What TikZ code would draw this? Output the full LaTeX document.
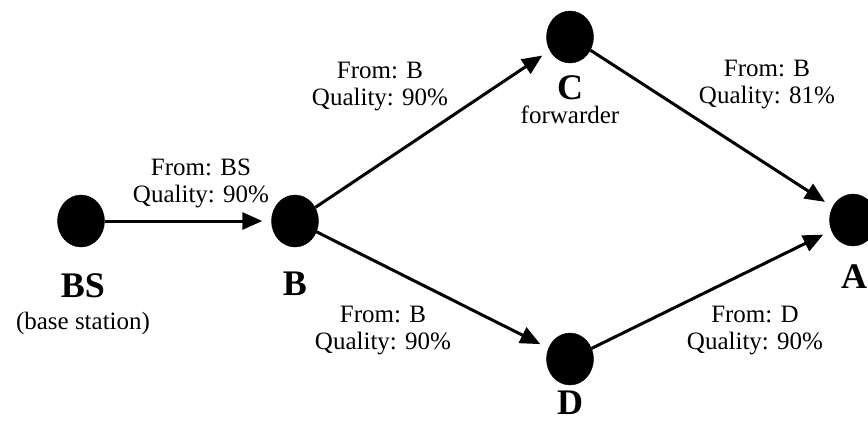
\documentclass[tikz,border=0pt]{standalone}
\usepackage{fontspec}
\setmainfont{Liberation Serif}
\usetikzlibrary{arrows.meta,shapes.geometric}
\begin{document}
\begin{tikzpicture}[x=1pt,y=-1pt,
  mote/.style={ellipse,fill=black,draw=black,minimum width=47pt,minimum height=52pt,inner sep=0pt},
  motename/.style={font=\fontsize{36}{38}\selectfont\bfseries,inner sep=0pt,anchor=base},
  caption/.style={font=\fontsize{25}{27}\selectfont,inner sep=0pt,anchor=base},
  note/.style={font=\fontsize{25}{27}\selectfont,inner sep=0pt,align=center},
  link/.style={line width=3pt,-{Triangle[length=20pt,width=17pt]},shorten >=9pt}]
\useasboundingbox (0,0) rectangle (868,424);
% motes
\node[mote] (BS) at (81,221) {};
\node[mote] (B)  at (295,221) {};
\node[mote] (C)  at (570,37) {};
\node[mote] (D)  at (570,359) {};
\node[mote] (A)  at (853,220) {};
% names under the motes
\node[motename] (lBS) at (83,297) {BS};
\node[caption] (sBS) at (83,329) {(base station)};
\node[motename] (lB)  at (295,295) {B};
\node[motename] (lC)  at (570,99) {C};
\node[caption] (sC)  at (570,123) {forwarder};
\node[motename] (lD)  at (570,414) {D};
\node[motename] (lA)  at (854,288) {A};
% links
\draw[link] (BS) -- (B);
\draw[link] (B) -- (C);
\draw[link] (B) -- (D);
\draw[link] (C) -- (A);
\draw[link] (D) -- (A);
% link annotations
\node[note] (tBSB) at (201,183) {From: BS\\Quality: 90\%};
\node[note] (tBC)  at (380,87) {From: B\\Quality: 90\%};
\node[note] (tCA)  at (767,85) {From: B\\Quality: 81\%};
\node[note] (tBD)  at (383,331) {From: B\\Quality: 90\%};
\node[note] (tDA)  at (755,331) {From: D\\Quality: 90\%};
\end{tikzpicture}
\end{document}
